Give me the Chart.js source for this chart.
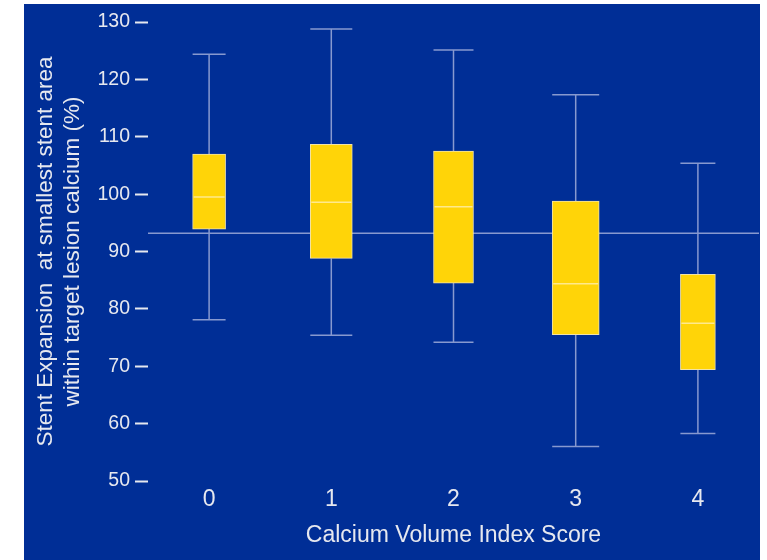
<!DOCTYPE html>
<html>
<head>
<meta charset="utf-8">
<title>Stent Expansion by Calcium Volume Index Score</title>
<script src="https://cdn.jsdelivr.net/npm/chart.js@4.4.1/dist/chart.umd.min.js"></script>
<style>
    html, body { margin: 0; padding: 0; background: #ffffff; }
    #wrap { width: 767px; height: 560px; }
</style>
</head>
<body>
<div id="wrap"><canvas id="chartBox" width="767" height="560"></canvas></div>
<script>
// --- dados ---
const categorias = ['0', '1', '2', '3', '4'];
const bigodeMin  = [78.1, 75.4, 74.2, 56.0, 58.3];
const q1         = [93.9, 88.8, 84.5, 75.5, 69.4];
const mediana    = [99.5, 98.6, 97.8, 84.4, 77.5];
const q3         = [107.0, 108.7, 107.5, 98.8, 86.0];
const bigodeMax  = [124.4, 128.8, 125.1, 117.3, 105.4];
const valorReferencia = 93.2;
const yMin = 50, yMax = 130, yPasso = 10;

// --- estilo ---
const AZUL = 'rgb(0, 46, 150)';
const AMARELO = '#FFD408';
const TEXTO = '#E6E8EF';
const LINHA = '#8799CF';
const FONTE = "'Liberation Sans', Arial, sans-serif";
const larguraCaixa = [33, 42, 40, 47, 35];

const painelFundo = {
    id: 'painelFundo',
    beforeDraw(chart) {
        const ctx = chart.ctx;
        ctx.save();
        ctx.fillStyle = '#ffffff';
        ctx.fillRect(0, 0, chart.width, chart.height);
        ctx.fillStyle = AZUL;
        ctx.fillRect(24, 4, 736, chart.height - 4);
        ctx.restore();
    }
};

const extrasBoxplot = {
    id: 'extrasBoxplot',
    beforeDatasetsDraw(chart) {
        const { ctx, chartArea, scales: { x, y } } = chart;
        ctx.save();
        ctx.strokeStyle = LINHA;
        ctx.lineWidth = 1.5;
        // linha de referência
        const yr = y.getPixelForValue(valorReferencia);
        ctx.beginPath();
        ctx.moveTo(chartArea.left, yr);
        ctx.lineTo(chartArea.right, yr);
        ctx.stroke();
        // bigodes e tampas
        categorias.forEach((c, i) => {
            const cx = x.getPixelForValue(i);
            const meia = larguraCaixa[i] / 2;
            const yMinP = y.getPixelForValue(bigodeMin[i]);
            const yMaxP = y.getPixelForValue(bigodeMax[i]);
            ctx.beginPath();
            ctx.moveTo(cx, yMaxP); ctx.lineTo(cx, y.getPixelForValue(q3[i]));
            ctx.moveTo(cx, y.getPixelForValue(q1[i])); ctx.lineTo(cx, yMinP);
            ctx.moveTo(cx - meia, yMaxP); ctx.lineTo(cx + meia, yMaxP);
            ctx.moveTo(cx - meia, yMinP); ctx.lineTo(cx + meia, yMinP);
            ctx.stroke();
        });
        ctx.restore();
    },
    afterDatasetsDraw(chart) {
        const { ctx, scales: { x, y } } = chart;
        ctx.save();
        ctx.strokeStyle = '#FFE98C';
        ctx.lineWidth = 1.5;
        categorias.forEach((c, i) => {
            const cx = x.getPixelForValue(i);
            const meia = larguraCaixa[i] / 2 - 1;
            const ym = y.getPixelForValue(mediana[i]);
            ctx.beginPath();
            ctx.moveTo(cx - meia, ym);
            ctx.lineTo(cx + meia, ym);
            ctx.stroke();
        });
        ctx.restore();
    }
};

const datasetsCaixas = categorias.map((c, i) => ({
    label: 'Caixa ' + c,
    data: categorias.map((_, j) => (j === i ? [q1[i], q3[i]] : null)),
    backgroundColor: AMARELO,
    borderColor: '#F2E3A6',
    borderWidth: 1,
    borderSkipped: false,
    barThickness: larguraCaixa[i],
    grouped: false
}));

new Chart(document.getElementById('chartBox'), {
    type: 'bar',
    data: { labels: categorias, datasets: datasetsCaixas },
    options: {
        responsive: false,
        animation: false,
        layout: { padding: { left: 23, right: 8, top: 22, bottom: 0 } },
        plugins: { legend: { display: false }, tooltip: { enabled: false } },
        scales: {
            x: {
                grid: { display: false, drawTicks: false },
                border: { display: false },
                ticks: { color: TEXTO, padding: 5, font: { family: FONTE, size: 23 } },
                title: {
                    display: true,
                    text: 'Calcium Volume Index Score',
                    color: TEXTO,
                    font: { family: FONTE, size: 23, lineHeight: 1.2 },
                    padding: { top: 0, bottom: 11 }
                },
                afterFit(scale) { scale.width = scale.width; scale.height = 79; }
            },
            y: {
                min: yMin,
                max: yMax,
                grid: { drawOnChartArea: false, drawTicks: true, tickLength: 13, tickWidth: 2, tickColor: TEXTO },
                border: { display: false },
                ticks: { stepSize: yPasso, color: TEXTO, padding: 5, font: { family: FONTE, size: 19.5 } },
                title: {
                    display: true,
                    text: ['Stent Expansion  at smallest stent area', 'within target lesion calcium (%)'],
                    color: TEXTO,
                    font: { family: FONTE, size: 22.5, lineHeight: 1.2 },
                    padding: { top: 9.5, bottom: 0 }
                },
                afterFit(scale) { scale.width = 125; }
            }
        }
    },
    plugins: [painelFundo, extrasBoxplot]
});
</script>
</body>
</html>
